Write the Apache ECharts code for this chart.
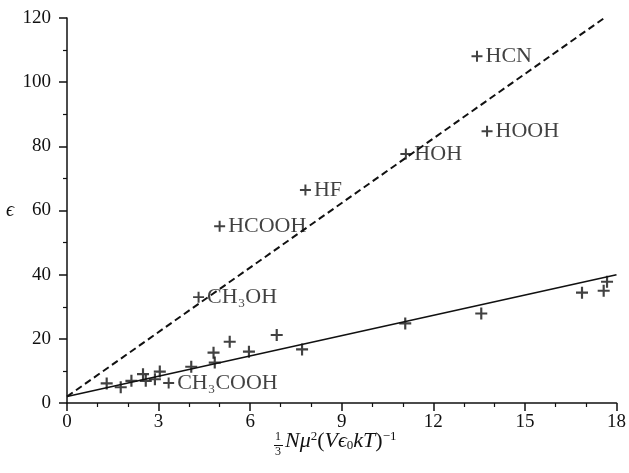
<!DOCTYPE html>
<html><head><meta charset="utf-8">
<script src="https://cdn.jsdelivr.net/npm/echarts@6/dist/echarts.min.js"></script>
<style>html,body{margin:0;padding:0;background:#fff}#c{width:629px;height:473px}</style>
</head><body><div id="c"></div>
<script>
// Labelled polar molecules: [x, epsilon]
const labelledNames = ['HCN', 'HOOH', 'HOH', 'HF', 'HCOOH', 'CH₃OH', 'CH₃COOH'];
const labelledX = [13.43, 13.76, 11.1, 7.81, 5.0, 4.31, 3.33];
const labelledY = [108.1, 84.7, 77.6, 66.4, 55.1, 33.0, 6.2];
// Unlabelled points
const otherX = [1.30, 1.76, 2.11, 2.49, 2.58, 2.88, 3.04, 4.07, 4.80, 4.84, 5.33, 5.96, 6.87, 7.70, 11.08, 13.57, 16.87, 17.58, 17.69];
const otherY = [6.1, 4.9, 6.9, 9.0, 6.9, 7.4, 9.8, 11.3, 15.7, 12.6, 19.1, 16.0, 21.2, 16.7, 24.8, 27.9, 34.4, 35.0, 37.8];
// Fit lines
const dashedLine = [[0, 2], [17.6, 120]];
const solidLine = [[0, 2], [18, 40]];
const xTicks = [0, 3, 6, 9, 12, 15, 18];
const yTicks = [0, 20, 40, 60, 80, 100, 120];

const FONT = 'Liberation Serif';
const INK = '#111';
const plus = 'path://M0,4.1H10V5.9H0Z M4.1,0H5.9V10H4.1Z';
const chart = echarts.init(document.getElementById('c'));
chart.setOption({
  animation: false,
  backgroundColor: '#fff',
  grid: {left: 67, right: 12, top: 18, bottom: 70},
  xAxis: {
    type: 'value', min: 0, max: 18, interval: 3,
    axisLine: {onZero: false, lineStyle: {color: INK, width: 1.5}},
    axisTick: {length: 8, lineStyle: {color: INK, width: 1.5}},
    minorTick: {show: true, splitNumber: 3, length: 4, lineStyle: {color: INK, width: 1.2}},
    splitLine: {show: false},
    axisLabel: {color: INK, fontFamily: FONT, fontSize: 19, margin: 10,
      formatter: v => xTicks.includes(v) ? String(v) : ''}
  },
  yAxis: {
    type: 'value', min: 0, max: 120, interval: 20,
    name: 'ϵ', nameLocation: 'middle', nameRotate: 0, nameGap: 53, nameMoveOverlap: false,
    nameTextStyle: {color: INK, fontFamily: FONT, fontSize: 20, fontStyle: 'italic', padding: [4, 0, 0, 0]},
    axisLine: {show: true, lineStyle: {color: INK, width: 1.5}},
    axisTick: {show: true, length: 8, lineStyle: {color: INK, width: 1.5}},
    minorTick: {show: true, splitNumber: 2, length: 4, lineStyle: {color: INK, width: 1.2}},
    splitLine: {show: false},
    axisLabel: {color: INK, fontFamily: FONT, fontSize: 19, margin: 16,
      formatter: v => yTicks.includes(v) ? String(v) : ''}
  },
  graphic: [
    {type: 'text', left: 275, top: 431, style: {text: '1', fontFamily: FONT, fontSize: 12, fill: INK}},
    {type: 'line', shape: {x1: 274, y1: 445.5, x2: 283, y2: 445.5}, style: {stroke: INK, lineWidth: 1}},
    {type: 'text', left: 275, top: 446, style: {text: '3', fontFamily: FONT, fontSize: 12, fill: INK}},
    {type: 'text', left: 285, top: 430, style: {
      rich: {
        i: {fontFamily: FONT, fontSize: 22, fontStyle: 'italic', fill: INK},
        r: {fontFamily: FONT, fontSize: 22, fill: INK},
        sup: {fontFamily: FONT, fontSize: 13, fill: INK, padding: [0, 0, 10, 0]},
        sub: {fontFamily: FONT, fontSize: 13, fill: INK, padding: [8, 0, 0, 0]}
      },
      text: '{i|Nμ}{sup|2}{r|(}{i|Vϵ}{sub|0}{i|kT}{r|)}{sup|−1}'
    }}
  ],
  series: [
    {type: 'line', data: dashedLine, symbol: 'none', silent: true,
      lineStyle: {color: INK, width: 2, type: [7, 4]}},
    {type: 'line', data: solidLine, symbol: 'none', silent: true,
      lineStyle: {color: INK, width: 1.6}},
    {type: 'scatter', symbol: plus, symbolSize: 11,
      itemStyle: {color: INK},
      data: labelledNames.map((n, i) => ({name: n, value: [labelledX[i], labelledY[i]]})),
      label: {show: true, position: 'right', distance: 3, formatter: '{b}',
        fontFamily: FONT, fontSize: 22, color: INK}
    },
    {type: 'scatter', symbol: plus, symbolSize: 12,
      itemStyle: {color: INK},
      data: otherX.map((x, i) => [x, otherY[i]])
    }
  ]
});
</script></body></html>
